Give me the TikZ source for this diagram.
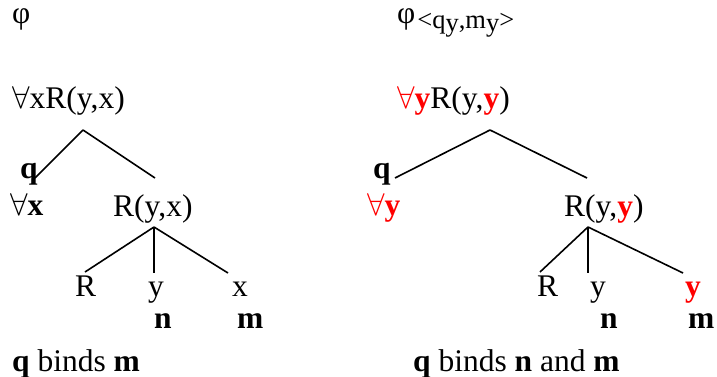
\documentclass[tikz,border=0pt]{standalone}
\usepackage{fix-cm}
\usepackage{fontspec}
\setmainfont{Liberation Serif}
\usepackage{xcolor}
\usepackage{tikz}
\newcommand{\fa}{\ensuremath{\forall}}
\newcommand{\ry}{\textcolor{red}{\textbf{y}}}

\begin{document}
\begin{tikzpicture}[x=1pt,y=-1pt,
  lbl/.style={inner sep=0pt,anchor=base west,font=\fontsize{31.5}{36}\selectfont},
  edge/.style={line width=1.6pt,draw=black}]
\useasboundingbox (0,0) rectangle (717,377);

% left formula
\node[lbl] (phiL) at (12,24) {φ};
\node[lbl] (rootL) at (12,109) {\fa xR(y,x)};
\node[lbl] (qL) at (20,178) {\textbf{q}};
\node[lbl] (qfL) at (10,215) {\fa\textbf{x}};
\node[lbl] (midL) at (113,216) {R(y,x)};
\node[lbl] (rL) at (75,296) {R};
\node[lbl] (yL) at (148,296) {y};
\node[lbl] (xL) at (232,296) {x};
\node[lbl] (nL) at (154,328) {\textbf{n}};
\node[lbl] (mL) at (237,328) {\textbf{m}};
\node[lbl] (bindL) at (12,371) {\textbf{q} binds \textbf{m}};

% right formula
\node[lbl] (phiR) at (397,24) {φ\kern2pt\raisebox{-5pt}{\fontsize{26.5}{27}\selectfont
  <q\raisebox{-3pt}{y},m\raisebox{-3pt}{y}>}};
\node[lbl] (rootR) at (397,109) {\textcolor{red}{\fa\textbf{y}}R(y,\ry)};
\node[lbl] (qR) at (373,178) {\textbf{q}};
\node[lbl] (qfR) at (367,215) {\textcolor{red}{\fa\textbf{y}}};
\node[lbl] (midR) at (564,216) {R(y,\ry)};
\node[lbl] (rR) at (537,296) {R};
\node[lbl] (yR) at (590,296) {y};
\node[lbl] (y2R) at (685,296) {\ry};
\node[lbl] (nR) at (600,328) {\textbf{n}};
\node[lbl] (mR) at (688,328) {\textbf{m}};
\node[lbl] (bindR) at (413,371) {\textbf{q} binds \textbf{n} and \textbf{m}};

% branch points
\coordinate (topL) at (83,130);
\coordinate (qEndL) at (35,178);
\coordinate (midEndL) at (155,178);
\coordinate (botL) at (154,227);
\coordinate (rEndL) at (85,272);
\coordinate (yEndL) at (154,273);
\coordinate (xEndL) at (228,273);

\coordinate (topR) at (490,130);
\coordinate (qEndR) at (395,178);
\coordinate (midEndR) at (587,178);
\coordinate (botR) at (588,227);
\coordinate (rEndR) at (540,272);
\coordinate (yEndR) at (588,273);
\coordinate (y2EndR) at (683,273);

\foreach \a/\b in {topL/qEndL,topL/midEndL,botL/rEndL,botL/yEndL,botL/xEndL,
                   topR/qEndR,topR/midEndR,botR/rEndR,botR/yEndR,botR/y2EndR}
  \draw[edge] (\a) -- (\b);
\end{tikzpicture}
\end{document}
